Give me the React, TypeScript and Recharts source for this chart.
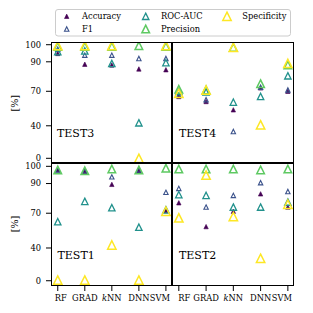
import React from "react";
import { ScatterChart, Scatter, XAxis, YAxis } from "recharts";

const FONT = "'DejaVu Serif', serif";

const categories = ["RF", "GRAD", "kNN", "DNN", "SVM"];
const yTickLabels = [0, 40, 70, 90, 100];

// Werte in %, Reihenfolge RF, GRAD, kNN, DNN, SVM
const test3Accuracy = [95, 88.5, 88, 85.5, 85];
const test3F1 = [97.5, 94, 94, 92, 92];
const test3RocAuc = [96, 96.5, 89, 43, 89.5];
const test3Precision = [99, 99, 99, 99.5, 99];
const test3Specificity = [99.5, 99.5, 99.5, 0, 99.5];

const test4Accuracy = [66, 62, 55, 72.5, 70];
const test4F1 = [67, 63.5, 34, 73, 71];
const test4RocAuc = [70, 69.5, 61.5, 66, 81];
const test4Precision = [71.5, 71, 98.5, 75.5, 88];
const test4Specificity = [68.5, 71, 98.5, 41, 89];

const test1Accuracy = [98, 97, 89.5, 97.5, 72];
const test1F1 = [98, 97.5, 94, 98, 84.5];
const test1RocAuc = [63.5, 78.5, 74, 59, 72.5];
const test1Precision = [98, 97.5, 98.5, 98, 99];
const test1Specificity = [1, 1, 43, 1, 71.5];

const test2Accuracy = [77.5, 59.5, 71.5, 83.5, 74.5];
const test2F1 = [87, 74.5, 82.5, 90.5, 85];
const test2RocAuc = [83, 82.5, 74.5, 74.5, 78];
const test2Precision = [98.5, 98.5, 98.5, 98, 98.5];
const test2Specificity = [66.5, 95, 67.5, 29, 76.5];

// y-Achse ist exponentiell gestaucht: exp(v/100), auf 0..100 normiert
const E1 = Math.E - 1;
const toAxis = (v: number) => ((Math.exp(v / 100) - 1) / E1) * 100;
const fromAxis = (t: number) => Math.round(100 * Math.log(1 + (t / 100) * E1));

const SERIES = [
  { name: "Accuracy", color: "#440154", half: 2.2, sw: 0.6, filled: true },
  { name: "F1", color: "#3b528b", half: 2.2, sw: 1.1, filled: false },
  { name: "ROC-AUC", color: "#21918c", half: 3.2, sw: 1.3, filled: false },
  { name: "Precision", color: "#5ec962", half: 3.8, sw: 1.5, filled: false },
  { name: "Specificity", color: "#fde725", half: 4.2, sw: 1.5, filled: false },
];

function triangle(cx: number, cy: number, s: (typeof SERIES)[number]) {
  const h = s.half;
  return (
    <path
      d={`M${cx},${cy - h}L${cx + h},${cy + h}L${cx - h},${cy + h}Z`}
      fill={s.filled ? s.color : "none"}
      stroke={s.color}
      strokeWidth={s.sw}
    />
  );
}

const toPoints = (vals: number[]) => vals.map((v, i) => ({ x: i, y: toAxis(v) }));

// äußere Labels rücken etwas nach innen, damit SVM und RF sich nicht berühren
const XTick = (props: any) => {
  const { x, y, payload, right } = props;
  const name = categories[payload.value];
  const shift = payload.value === 0 ? (right ? 5.5 : 3) : payload.value === 4 ? -6 : 0;
  return (
    <text x={x + shift} y={y} dy="0.71em" textAnchor="middle" fontFamily={FONT} fontSize={8.3} fill="#000">
      {name === "kNN" ? (
        <>
          <tspan fontStyle="italic">k</tspan>
          <tspan>NN</tspan>
        </>
      ) : (
        name
      )}
    </text>
  );
};

const YTick = (props: any) => {
  const { x, y, payload } = props;
  return (
    <text x={x} y={y} dy="0.355em" textAnchor="end" fontFamily={FONT} fontSize={8.3} fill="#000">
      {fromAxis(payload.value)}
    </text>
  );
};

interface PanelProps {
  left: number;
  top: number;
  width: number;
  height: number;
  showY: boolean;
  showX: boolean;
  yDomain: [number, number];
  values: number[][];
}

// PAD: Rand um jedes Diagramm, damit Achsenbeschriftungen nicht abgeschnitten werden
const PAD = 12;

function Panel({ left, top, width, height, showY, showX, yDomain, values }: PanelProps) {
  return (
    <div style={{ position: "absolute", left, top: top - PAD }}>
      <ScatterChart
        width={width + PAD}
        height={height + PAD}
        margin={{ top: PAD, right: PAD, bottom: 0, left: 0 }}
      >
        <XAxis
          type="number"
          dataKey="x"
          domain={[-0.25, 4.225]}
          ticks={[0, 1, 2, 3, 4]}
          interval={0}
          allowDataOverflow
          axisLine={false}
          tickLine={{ stroke: "#000" }}
          tickSize={5}
          tickMargin={4}
          height={showX ? 27 : 5}
          tick={showX ? <XTick right={!showY} /> : false}
        />
        <YAxis
          type="number"
          dataKey="y"
          domain={yDomain}
          ticks={yTickLabels.map(toAxis)}
          interval={0}
          allowDataOverflow
          axisLine={false}
          tickLine={{ stroke: "#000" }}
          tickSize={5}
          tickMargin={5}
          width={51}
          hide={!showY}
          tick={<YTick />}
        />
        {SERIES.map((s, k) => (
          <Scatter
            key={s.name}
            name={s.name}
            data={toPoints(values[k])}
            isAnimationActive={false}
            shape={(p: any) => triangle(p.cx, p.cy, s)}
          />
        ))}
      </ScatterChart>
    </div>
  );
}

const TOP_DOMAIN: [number, number] = [-4.13, 102.38];
const BOTTOM_DOMAIN: [number, number] = [-4.6, 102.9];

const legendPos = [
  { x: 66.7, y: 16.3 },
  { x: 66.7, y: 29 },
  { x: 145.7, y: 16.3 },
  { x: 145.7, y: 29 },
  { x: 227, y: 16.3 },
];

export default function App() {
  return (
    <div style={{ position: "absolute", left: 0, top: 0, width: 313, height: 313, background: "#fff", overflow: "hidden" }}>
      <Panel
        left={0}
        top={42}
        width={172}
        height={126}
        showY
        showX={false}
        yDomain={TOP_DOMAIN}
        values={[test3Accuracy, test3F1, test3RocAuc, test3Precision, test3Specificity]}
      />
      <Panel
        left={172}
        top={42}
        width={122}
        height={126}
        showY={false}
        showX={false}
        yDomain={TOP_DOMAIN}
        values={[test4Accuracy, test4F1, test4RocAuc, test4Precision, test4Specificity]}
      />
      <Panel
        left={0}
        top={163}
        width={172}
        height={150}
        showY
        showX
        yDomain={BOTTOM_DOMAIN}
        values={[test1Accuracy, test1F1, test1RocAuc, test1Precision, test1Specificity]}
      />
      <Panel
        left={172}
        top={163}
        width={122}
        height={150}
        showY={false}
        showX
        yDomain={BOTTOM_DOMAIN}
        values={[test2Accuracy, test2F1, test2RocAuc, test2Precision, test2Specificity]}
      />

      {/* Rahmen, Panel-Titel, Achsentitel und Legende */}
      <svg
        width={313}
        height={313}
        style={{ position: "absolute", left: 0, top: 0, pointerEvents: "none" }}
        fontFamily={FONT}
      >
        <rect x={51.5} y={42.5} width={120} height={120} fill="none" stroke="#000" strokeWidth={1} />
        <rect x={172.5} y={42.5} width={121} height={120} fill="none" stroke="#000" strokeWidth={1} />
        <rect x={51.5} y={163.5} width={120} height={122} fill="none" stroke="#000" strokeWidth={1} />
        <rect x={172.5} y={163.5} width={121} height={122} fill="none" stroke="#000" strokeWidth={1} />

        <text x={57} y={137.3} fontSize={11} fill="#000">TEST3</text>
        <text x={179} y={137.3} fontSize={11} fill="#000">TEST4</text>
        <text x={57.5} y={259} fontSize={11} fill="#000">TEST1</text>
        <text x={179} y={259} fontSize={11} fill="#000">TEST2</text>

        <text x={14.3} y={103.3} fontSize={9.6} fill="#000" textAnchor="middle" dy="0.355em" transform="rotate(-90 14.3 103.3)">
          [%]
        </text>
        <text x={14.3} y={224} fontSize={9.6} fill="#000" textAnchor="middle" dy="0.355em" transform="rotate(-90 14.3 224)">
          [%]
        </text>

        <rect x={55.5} y={9.5} width={235} height={26.5} rx={2.5} fill="#fff" stroke="#cccccc" strokeWidth={1} />
        {SERIES.map((s, k) => (
          <g key={s.name}>
            {triangle(legendPos[k].x, legendPos[k].y, s)}
            <text x={legendPos[k].x + 15.3} y={legendPos[k].y} dy="0.355em" fontSize={8.3} fill="#000">
              {s.name}
            </text>
          </g>
        ))}
      </svg>
    </div>
  );
}
